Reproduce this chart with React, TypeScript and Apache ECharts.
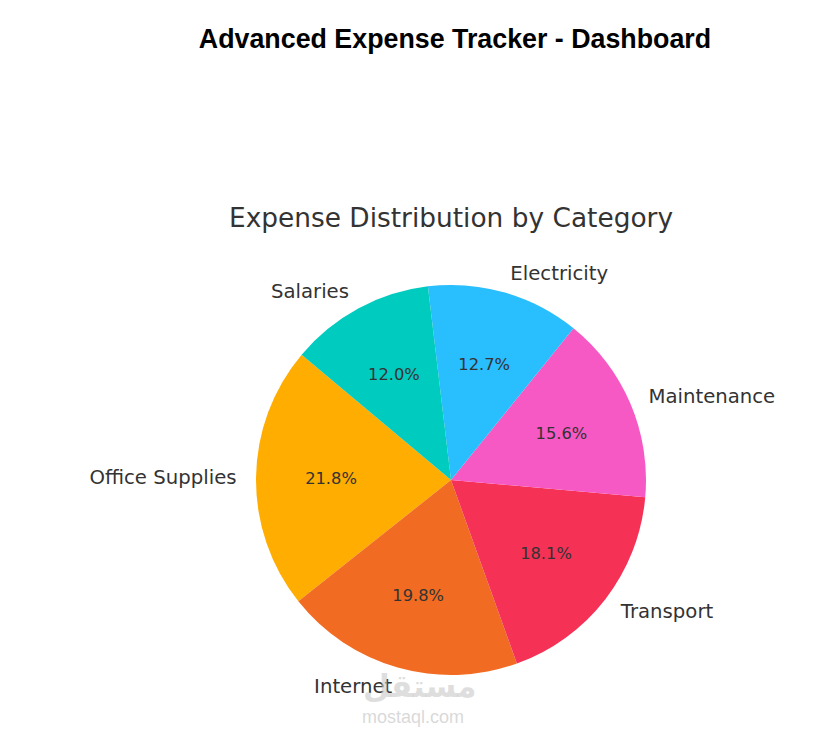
import React, { useEffect, useRef } from "react";
import * as echarts from "echarts";

const categories = ["Office Supplies", "Internet", "Transport", "Maintenance", "Electricity", "Salaries"];
const shares = [21.8, 19.8, 18.1, 15.6, 12.7, 12.0];
const colors = ["#FFAD00", "#F26B22", "#F53256", "#F759C4", "#29BEFE", "#00CBBF"];

const CX = 451;
const CY = 480;
const R = 195;

export default function App() {
  const ref = useRef<HTMLDivElement>(null);
  useEffect(() => {
    document.body.style.margin = "0";
    const chart = echarts.init(ref.current!, null, { renderer: "svg" });
    const data = categories.map((name, i) => ({ name, value: shares[i] }));
    chart.setOption({
      animation: false,
      backgroundColor: "#ffffff",
      color: colors,
      title: [
        {
          text: "Advanced Expense Tracker - Dashboard",
          left: 450,
          top: 20,
          textAlign: "center",
          textStyle: {
            fontFamily: "Liberation Sans, Arial, sans-serif",
            fontWeight: "bold",
            fontSize: 26.8,
            color: "#000000",
          },
        },
        {
          text: "Expense Distribution by Category",
          left: 446,
          top: 199,
          textAlign: "center",
          textStyle: {
            fontFamily: "DejaVu Sans",
            fontWeight: "normal",
            fontSize: 26.4,
            color: "#333333",
          },
        },
      ],
      graphic: [
        {
          type: "text",
          left: 363,
          top: 670,
          z: 100,
          style: {
            text: "مستقل",
            fontFamily: "DejaVu Sans",
            fontWeight: "bold",
            fontSize: 31,
            fill: "rgba(200,200,200,0.6)",
          },
        },
        {
          type: "text",
          left: 362,
          top: 708,
          z: 100,
          style: {
            text: "mostaql.com",
            fontFamily: "Liberation Sans, Arial, sans-serif",
            fontSize: 18,
            fill: "rgba(200,200,200,0.7)",
          },
        },
      ],
      series: [
        {
          type: "pie",
          center: [CX, CY],
          radius: [0, R],
          startAngle: 140,
          clockwise: false,
          avoidLabelOverlap: false,
          silent: true,
          data,
          itemStyle: { borderWidth: 0 },
          label: {
            show: true,
            position: "outside",
            formatter: "{b}",
            fontFamily: "DejaVu Sans",
            fontSize: 19.7,
            color: "#333333",
            distanceToLabelLine: 0,
          },
          labelLine: { show: false, length: R * 0.1, length2: 0 },
          emphasis: { disabled: true },
        },
        {
          type: "pie",
          center: [CX, CY],
          radius: [0, R * 1.2],
          startAngle: 140,
          clockwise: false,
          avoidLabelOverlap: false,
          silent: true,
          data,
          itemStyle: { color: "transparent", borderWidth: 0 },
          label: {
            show: true,
            position: "inside",
            formatter: (p: any) => p.value.toFixed(1) + "%",
            fontFamily: "DejaVu Sans",
            fontSize: 16.3,
            color: "#333333",
          },
          labelLine: { show: false },
          emphasis: { disabled: true },
        },
      ],
    });
    return () => chart.dispose();
  }, []);
  return (
    <div
      ref={ref}
      style={{ position: "absolute", left: 0, top: 0, width: 826, height: 742 }}
    />
  );
}
